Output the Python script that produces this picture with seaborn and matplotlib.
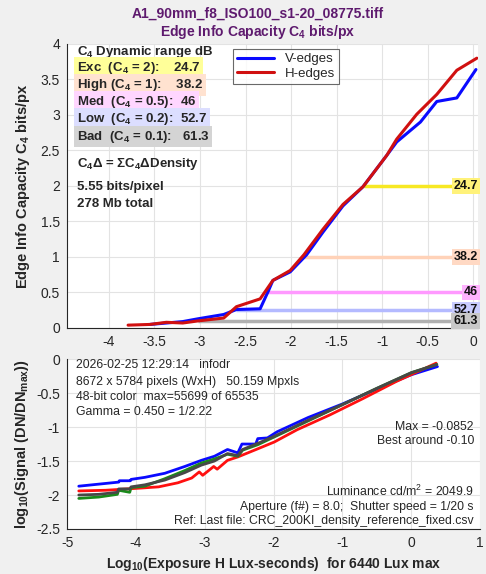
import numpy as np
import pandas as pd
import matplotlib
matplotlib.use('Agg')
import matplotlib.pyplot as plt
import seaborn as sns

# ---- top chart: edge info capacity C4 vs log exposure ----
v_x = [-3.55, -3.19, -3.02, -2.74, -2.60, -2.34, -2.25, -2.20, -2.01, -1.83, -1.65,
       -1.43, -1.21, -0.95, -0.84, -0.58, -0.40, -0.18, 0.03]
v_y = [0.05, 0.09, 0.13, 0.19, 0.26, 0.27, 0.52, 0.67, 0.79, 1.03, 1.35,
       1.72, 1.99, 2.43, 2.62, 2.90, 3.19, 3.24, 3.64]
h_x = [-3.79, -3.55, -3.37, -3.19, -3.02, -2.74, -2.60, -2.34, -2.20, -2.01, -1.86,
       -1.65, -1.43, -1.21, -0.95, -0.84, -0.62, -0.40, -0.18, 0.04]
h_y = [0.04, 0.05, 0.08, 0.07, 0.10, 0.14, 0.30, 0.41, 0.67, 0.81, 1.03,
       1.39, 1.74, 1.99, 2.43, 2.66, 3.01, 3.29, 3.63, 3.80]

level_rows = ['Exc  (C$_4$ = 2):    24.7', 'High (C$_4$ = 1):    38.2', 'Med  (C$_4$ = 0.5):  46',
              'Low  (C$_4$ = 0.2):  52.7', 'Bad  (C$_4$ = 0.1):   61.3']
level_y = [2, 1, 0.5, 0.25, 0.1]
level_start = [-1.20, -1.86, -2.27, -2.60, -3.02]
level_db = ['24.7', '38.2', '46', '52.7', '61.3']
line_cols = ['#f7e823', '#ffd2b8', '#ff99ff', '#b4baff', '#b0b0b0']
label_cols = ['#fff27a', '#ffd9c4', '#ffb3ff', '#c8ccff', '#c8c8c8']
row_cols = ['#ffff99', '#ffe2d0', '#ffd6ff', '#dcdeff', '#d4d4d4']

# ---- bottom chart: log signal vs log exposure ----
blue_x = [-4.83, -4.25, -4.24, -4.08, -4.07, -3.87, -3.58, -3.29, -3.05, -2.86, -2.67,
          -2.52, -2.46, -2.26, -2.23, -2.09, -1.95, -1.5, -1.0, -0.5, 0.0, 0.38]
blue_y = [-1.87, -1.81, -1.79, -1.79, -1.77, -1.74, -1.68, -1.58, -1.49, -1.43, -1.33,
          -1.38, -1.25, -1.25, -1.17, -1.16, -1.07, -0.86, -0.66, -0.44, -0.23, -0.11]
red_x = [-4.83, -4.44, -3.96, -3.67, -3.39, -3.19, -3.08, -3.03, -2.87, -2.82, -2.67,
         -2.52, -2.23, -1.99, -1.66, -1.18, -0.70, -0.22, 0.36]
red_y = [-1.94, -1.93, -1.90, -1.88, -1.82, -1.75, -1.66, -1.71, -1.58, -1.62, -1.49,
         -1.44, -1.32, -1.22, -1.04, -0.82, -0.58, -0.33, -0.06]
gx = [-4.83, -4.54, -4.27, -4.25, -4.09, -4.07, -3.87, -3.58, -3.29, -3.05, -2.86,
      -2.67, -2.52, -2.45, -2.23, -2.0, -1.5, -1.0, -0.5, 0.0, 0.37]
green_y = [-2.05, -2.03, -1.99, -1.93, -1.96, -1.89, -1.87, -1.76, -1.64, -1.53, -1.47,
           -1.40, -1.43, -1.34, -1.26, -1.15, -0.91, -0.67, -0.43, -0.20, -0.08]
gray_y = [-2.00, -1.99, -1.96, -1.91, -1.91, -1.88, -1.85, -1.78, -1.67, -1.56, -1.50,
          -1.39, -1.42, -1.33, -1.24, -1.14, -0.90, -0.67, -0.43, -0.20, -0.08]

sns.set_style('whitegrid', {'grid.color': '#e3e3e3', 'axes.edgecolor': '#262626'})
plt.rcParams['font.family'] = ['Liberation Sans', 'DejaVu Sans']
plt.rcParams['mathtext.default'] = 'regular'
plt.rcParams['axes.unicode_minus'] = False

fig = plt.figure(figsize=(4.86, 5.74), dpi=100, facecolor='#f0f0f0')
ax1 = fig.add_axes([0.138, 0.4286, 0.846, 0.4948])
ax2 = fig.add_axes([0.138, 0.0784, 0.850, 0.296])

top = pd.concat([
    pd.DataFrame({'x': v_x, 'y': v_y, 'edge': 'V-edges'}),
    pd.DataFrame({'x': h_x, 'y': h_y, 'edge': 'H-edges'}),
])
for ly, x0, c, lc, db in zip(level_y, level_start, line_cols, label_cols, level_db):
    ax1.plot([x0, 0.0], [ly, ly], color=c, lw=2.5, zorder=2, solid_capstyle='butt')
    ax1.text(0.05, ly, db, ha='right', va='center', fontsize=9, fontweight='bold',
             color='#111111', zorder=4,
             bbox=dict(boxstyle='square,pad=0.15', fc=lc, ec='none'))
sns.lineplot(data=top, x='x', y='y', hue='edge', palette={'V-edges': '#0a0aff', 'H-edges': '#d01010'},
             sort=False, estimator=None, lw=2.2, ax=ax1, zorder=3)
ax1.set_xlim(-4.46, 0.055)
ax1.set_ylim(0, 4)
ax1.set_xticks(np.arange(-4, 0.01, 0.5))
ax1.set_yticks(np.arange(0, 4.01, 0.5))
ax1.set_xticklabels(['%g' % t for t in np.arange(-4, 0.01, 0.5)])
ax1.set_yticklabels(['%g' % t for t in np.arange(0, 4.01, 0.5)])
ax1.set_xlabel('')
ax1.set_ylabel('Edge Info Capacity C$_4$ bits/px', fontsize=10.5, fontweight='bold', labelpad=6)
leg = ax1.legend(loc='upper left', bbox_to_anchor=(233 / 486, 1 - 49 / 574), bbox_transform=fig.transFigure,
                 fontsize=9.5, frameon=True, fancybox=False, edgecolor='#444444', handlelength=2.8,
                 borderpad=0.3, labelspacing=0.2, borderaxespad=0)
leg.get_frame().set_linewidth(0.8)

# info block on the left
ax1.text(0.024, 0.972, 'C$_4$ Dynamic range dB', transform=ax1.transAxes, fontsize=9.5,
         fontweight='bold', va='center')
row_y = [0.915, 0.856, 0.796, 0.736, 0.673]
for ry, txt, rc in zip(row_y, level_rows, row_cols):
    ax1.text(0.024, ry, txt, transform=ax1.transAxes,
             fontsize=9.5, fontweight='bold', va='center',
             bbox=dict(boxstyle='square,pad=0.2', fc=rc, ec='none'))
ax1.text(0.024, 0.577, 'C$_4$Δ = ΣC$_4$ΔDensity', transform=ax1.transAxes, fontsize=9.5,
         fontweight='bold', va='center')
ax1.text(0.024, 0.496, '5.55 bits/pixel', transform=ax1.transAxes, fontsize=9.5, fontweight='bold', va='center')
ax1.text(0.024, 0.437, '278 Mb total', transform=ax1.transAxes, fontsize=9.5, fontweight='bold', va='center')

bottom = pd.concat([
    pd.DataFrame({'x': blue_x, 'y': blue_y, 'ch': 'B'}),
    pd.DataFrame({'x': red_x, 'y': red_y, 'ch': 'R'}),
    pd.DataFrame({'x': gx, 'y': green_y, 'ch': 'G'}),
    pd.DataFrame({'x': gx, 'y': gray_y, 'ch': 'Y'}),
])
sns.lineplot(data=bottom, x='x', y='y', hue='ch', palette={'B': '#0a0aff', 'R': '#ff1010', 'G': '#1a8a1a', 'Y': '#484848'},
             sort=False, estimator=None, lw=2, ax=ax2, legend=False)
ax2.set_xlim(-5, 1)
ax2.set_ylim(-2.5, 0)
ax2.set_xticks(np.arange(-5, 1.01, 1))
ax2.set_yticks(np.arange(-2.5, 0.01, 0.5))
ax2.set_xticklabels(['%g' % t for t in np.arange(-5, 1.01, 1)])
ax2.set_yticklabels(['%g' % t for t in np.arange(-2.5, 0.01, 0.5)])
ax2.set_xlabel('Log$_{10}$(Exposure H Lux-seconds)  for 6440 Lux max', fontsize=10, fontweight='bold', labelpad=4)
ax2.set_ylabel('log$_{10}$(Signal (DN/DN$_{max}$))', fontsize=10.5, fontweight='bold', labelpad=4)

info = ['2026-02-25 12:29:14   infodr', '8672 x 5784 pixels (WxH)   50.159 Mpxls',
        '48-bit color  max=55699 of 65535', 'Gamma = 0.450 = 1/2.22']
for t, yy in zip(info, [0.965, 0.866, 0.778, 0.69]):
    ax2.text(0.022, yy, t, transform=ax2.transAxes, fontsize=8.8, va='center')
right_info = [('Max = -0.0852', 0.602), ('Best around -0.10', 0.518),
              ('Luminance cd/m$^2$ = 2049.9', 0.219),
              ('Aperture (f#) = 8.0;  Shutter speed = 1/20 s', 0.131),
              ('Ref: Last file: CRC_200KI_density_reference_fixed.csv', 0.047)]
for t, yy in right_info:
    ax2.text(0.985, yy, t, transform=ax2.transAxes, fontsize=8.8, va='center', ha='right')

for ax in (ax1, ax2):
    ax.set_facecolor('white')
    sns.despine(ax=ax)
    ax.tick_params(direction='in', length=3, labelsize=10, colors='#262626', pad=5)
    for s in ('left', 'bottom'):
        ax.spines[s].set_linewidth(0.8)

fig.text(0.531, 0.976, 'A1_90mm_f8_ISO100_s1-20_08775.tiff', ha='center', va='center',
         fontsize=10, fontweight='bold', color='#5e1a6e')
fig.text(0.531, 0.944, 'Edge Info Capacity C$_4$ bits/px', ha='center', va='center',
         fontsize=10, fontweight='bold', color='#5e1a6e')

fig.savefig('out.png', dpi=100, facecolor=fig.get_facecolor())
